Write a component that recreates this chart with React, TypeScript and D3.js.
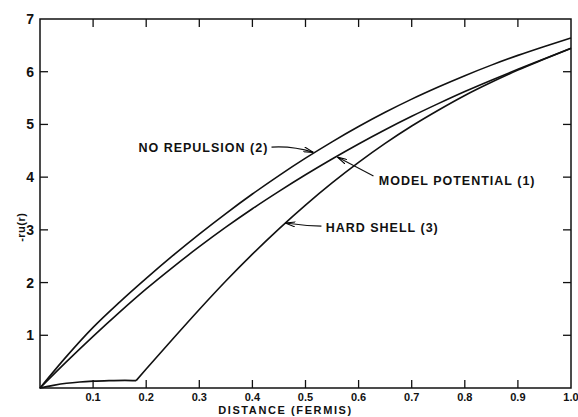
import React from "react";
import * as d3 from "d3";

// distance r in fermis, -r u(r)
const rValues = [0, 0.05, 0.1, 0.15, 0.2, 0.25, 0.3, 0.35, 0.4, 0.45, 0.5, 0.55, 0.6, 0.65, 0.7, 0.75, 0.8, 0.85, 0.9, 0.95, 1.0];
const modelPotential = [0, 0.5, 0.98, 1.44, 1.88, 2.29, 2.68, 3.05, 3.4, 3.73, 4.045, 4.345, 4.63, 4.9, 5.155, 5.395, 5.625, 5.84, 6.045, 6.245, 6.445];
const noRepulsion = [0, 0.6, 1.15, 1.63, 2.08, 2.51, 2.92, 3.31, 3.68, 4.03, 4.36, 4.67, 4.96, 5.23, 5.48, 5.71, 5.925, 6.125, 6.31, 6.48, 6.64];

const hardShellR = [0, 0.025, 0.05, 0.075, 0.1, 0.13, 0.16, 0.181, 0.2, 0.25, 0.3, 0.35, 0.4, 0.45, 0.5, 0.55, 0.6, 0.65, 0.7, 0.75, 0.8, 0.85, 0.9, 0.95, 1.0];
const hardShell = [0, 0.05, 0.09, 0.115, 0.13, 0.14, 0.145, 0.14, 0.36, 0.93, 1.49, 2.03, 2.54, 3.02, 3.47, 3.89, 4.28, 4.64, 4.97, 5.27, 5.55, 5.8, 6.03, 6.24, 6.445];
const hardShellKink = 0.181;

const xTickValues = [0.1, 0.2, 0.3, 0.4, 0.5, 0.6, 0.7, 0.8, 0.9, 1.0];
const xTickLabels = ["0.1", "0.2", "0.3", "0.4", "0.5", "0.6", "0.7", "0.8", "0.9", "1.0"];
const yTickValues = [1, 2, 3, 4, 5, 6, 7];

const annotations = [
  { text: "NO REPULSION (2)", lx: 0.43, ly: 4.57, anchor: "end", ax: 0.436, ay: 4.57, tx: 0.515, ty: 4.47, bend: -4 },
  { text: "MODEL POTENTIAL (1)", lx: 0.638, ly: 3.95, anchor: "start", ax: 0.628, ay: 4.02, tx: 0.56, ty: 4.38, bend: 0 },
  { text: "HARD SHELL (3)", lx: 0.538, ly: 3.05, anchor: "start", ax: 0.53, ay: 3.07, tx: 0.462, ty: 3.13, bend: 1 },
];

const W = 578;
const H = 417;
const margin = { top: 19, right: 7, bottom: 29, left: 40 };
const font = "'Liberation Sans', Arial, sans-serif";

export default function App() {
  const x = d3.scaleLinear().domain([0, 1]).range([margin.left, W - margin.right]);
  const y = d3.scaleLinear().domain([0, 7]).range([H - margin.bottom, margin.top]);

  const line = d3
    .line<[number, number]>()
    .x((d) => x(d[0]))
    .y((d) => y(d[1]))
    .curve(d3.curveMonotoneX);

  const model = rValues.map((r, i) => [r, modelPotential[i]] as [number, number]);
  const noRep = rValues.map((r, i) => [r, noRepulsion[i]] as [number, number]);
  const hard = hardShellR.map((r, i) => [r, hardShell[i]] as [number, number]);
  const hardA = hard.filter((d) => d[0] <= hardShellKink);
  const hardB = hard.filter((d) => d[0] >= hardShellKink);

  const x0 = x(0), x1 = x(1), y0 = y(0), y1 = y(7);
  const tick = 8;

  return (
    <svg width={W} height={H} style={{ position: "absolute", left: 0, top: 0, background: "#fff" }}>
      <defs>
        <marker id="arr" viewBox="0 0 10 6" refX="10" refY="3" markerWidth="10" markerHeight="6" orient="auto" markerUnits="userSpaceOnUse">
          <path d="M0,0.5 L10,3 L0,5.5" fill="none" stroke="#000" strokeWidth="1.1" />
        </marker>
      </defs>

      <rect x={x0} y={y1} width={x1 - x0} height={y0 - y1} fill="none" stroke="#111" strokeWidth={1.5} />

      {xTickValues.slice(0, -1).map((t) => (
        <g key={"xt" + t} stroke="#111" strokeWidth={1.3}>
          <line x1={x(t)} x2={x(t)} y1={y0} y2={y0 - tick} />
          <line x1={x(t)} x2={x(t)} y1={y1} y2={y1 + tick} />
        </g>
      ))}
      {yTickValues.slice(0, -1).map((t) => (
        <g key={"yt" + t} stroke="#111" strokeWidth={1.3}>
          <line x1={x0} x2={x0 + tick} y1={y(t)} y2={y(t)} />
          <line x1={x1} x2={x1 - tick} y1={y(t)} y2={y(t)} />
        </g>
      ))}

      {xTickValues.map((t, i) => (
        <text key={"xl" + t} x={x(t)} y={y0 + 12.5} textAnchor="middle" fontFamily={font} fontSize={11} fontWeight="bold" fill="#111">
          {xTickLabels[i]}
        </text>
      ))}
      {yTickValues.map((t) => (
        <text key={"yl" + t} x={x0 - 6} y={y(t) + 5} textAnchor="end" fontFamily={font} fontSize={14} fontWeight="bold" fill="#111">
          {t}
        </text>
      ))}

      <text x={(x0 + x1) / 2 - 20} y={H - 3} textAnchor="middle" fontFamily={font} fontSize={11} fontWeight="bold" letterSpacing={1.6} fill="#111">
        DISTANCE  (FERMIS)
      </text>
      <text transform={`translate(25, ${y(3.05)}) rotate(-90)`} textAnchor="middle" fontFamily={font} fontSize={11} fontWeight="bold" letterSpacing={0.5} fill="#111">
        -ru(r)
      </text>

      <g fill="none" stroke="#111" strokeWidth={1.6}>
        <path d={line(noRep) ?? ""} />
        <path d={line(model) ?? ""} />
        <path d={line(hardA) ?? ""} />
        <path d={line(hardB) ?? ""} />
      </g>

      {annotations.map((a) => {
        const sx = x(a.ax), sy = y(a.ay), ex = x(a.tx), ey = y(a.ty);
        const mx = (sx + ex) / 2, my = (sy + ey) / 2 + a.bend;
        return (
          <g key={a.text}>
            <path d={`M${sx},${sy} Q${mx},${my} ${ex},${ey}`} fill="none" stroke="#111" strokeWidth={1.1} markerEnd="url(#arr)" />
            <text x={x(a.lx)} y={y(a.ly) + 5} textAnchor={a.anchor as any} fontFamily={font} fontSize={12.5} fontWeight="bold" letterSpacing={1} fill="#111">
              {a.text}
            </text>
          </g>
        );
      })}
    </svg>
  );
}
